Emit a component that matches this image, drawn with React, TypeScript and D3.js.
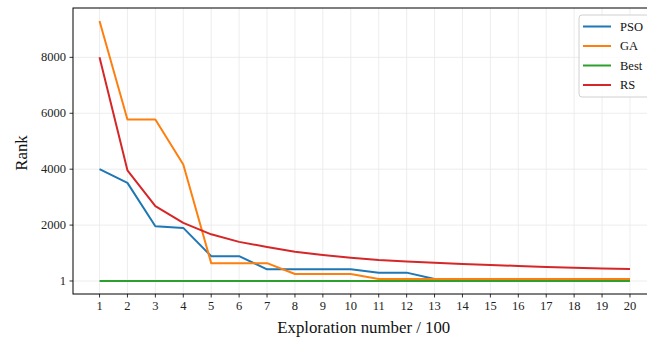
import React from "react";
import * as d3 from "d3";

const xs = [1, 2, 3, 4, 5, 6, 7, 8, 9, 10, 11, 12, 13, 14, 15, 16, 17, 18, 19, 20];
const pso = [4000, 3510, 1960, 1900, 890, 890, 420, 420, 420, 420, 300, 300, 70, 70, 70, 70, 70, 70, 70, 70];
const ga = [9300, 5780, 5780, 4170, 640, 640, 640, 250, 250, 250, 75, 75, 75, 75, 75, 75, 75, 75, 75, 75];
const best = xs.map(() => 1);
const rs = [8000, 3960, 2680, 2080, 1670, 1400, 1220, 1045, 930, 830, 750, 700, 655, 605, 570, 540, 500, 476, 452, 430];
const yTicks = [1, 2000, 4000, 6000, 8000];

const series = [
  { name: "PSO", values: pso, color: "#1f77b4" },
  { name: "GA", values: ga, color: "#ff7f0e" },
  { name: "Best", values: best, color: "#2ca02c" },
  { name: "RS", values: rs, color: "#d62728" },
];

const W = 647, H = 341;
const L = 73, R = 656.5, T = 8, B = 294;

export default function App() {
  const x = d3.scaleLinear().domain([0.05, 20.95]).range([L, R]);
  const y = d3.scaleLinear().domain([-464, 9765]).range([B, T]);
  const line = d3.line<number>().x((_, i) => x(xs[i])).y((v) => y(v));
  return (
    <svg width={W} height={H} style={{ position: "absolute", left: 0, top: 0, background: "#fff" }}>
      <defs>
        <clipPath id="plot">
          <rect x={L} y={T} width={R - L} height={B - T} />
        </clipPath>
      </defs>
      {xs.map((t) => (
        <line key={"gx" + t} x1={x(t)} x2={x(t)} y1={T} y2={B} stroke="#e8e8e8" strokeWidth={0.8} />
      ))}
      {yTicks.map((t) => (
        <line key={"gy" + t} x1={L} x2={R} y1={y(t)} y2={y(t)} stroke="#e8e8e8" strokeWidth={0.8} />
      ))}
      <g clipPath="url(#plot)">
        {series.map((s) => (
          <path key={s.name} d={line(s.values) || ""} fill="none" stroke={s.color} strokeWidth={2} strokeLinejoin="round" />
        ))}
      </g>
      <rect x={L} y={T} width={R - L} height={B - T} fill="none" stroke="#000" strokeWidth={1} />
      {xs.map((t) => (
        <line key={"xk" + t} x1={x(t)} x2={x(t)} y1={B} y2={B + 3.5} stroke="#000" strokeWidth={0.8} />
      ))}
      {yTicks.map((t) => (
        <line key={"yk" + t} x1={L} x2={L - 3.5} y1={y(t)} y2={y(t)} stroke="#000" strokeWidth={0.8} />
      ))}
      {xs.map((t) => (
        <text key={"xt" + t} x={x(t)} y={B + 16} fontSize={12.5} style={{ fontFamily: "Liberation Serif", textAnchor: "middle" }} fill="#222">{String(t)}</text>
      ))}
      {yTicks.map((t) => (
        <text key={"yt" + t} x={L - 7} y={y(t) + 4} fontSize={12.5} style={{ fontFamily: "Liberation Serif", textAnchor: "end" }} fill="#222">{String(t)}</text>
      ))}
      <text x={(L + R) / 2 - 1} y={333} fontSize={16.8} style={{ fontFamily: "Liberation Serif", textAnchor: "middle" }} fill="#111">Exploration number / 100</text>
      <text transform={`translate(27,${(T + B) / 2 + 2}) rotate(-90)`} fontSize={16.8} style={{ fontFamily: "Liberation Serif", textAnchor: "middle" }} fill="#111">Rank</text>
      <rect x={579} y={15} width={72} height={82} rx={3} fill="#fff" fillOpacity={0.8} stroke="#d0d0d0" strokeWidth={1} />
      {series.map((s, i) => (
        <line key={"ll" + s.name} x1={583} x2={611} y1={26.5 + i * 19.5} y2={26.5 + i * 19.5} stroke={s.color} strokeWidth={2} />
      ))}
      {series.map((s, i) => (
        <text key={"lt" + s.name} x={620} y={30.8 + i * 19.5} fontSize={12.5} style={{ fontFamily: "Liberation Serif" }} fill="#111">{s.name}</text>
      ))}
    </svg>
  );
}
